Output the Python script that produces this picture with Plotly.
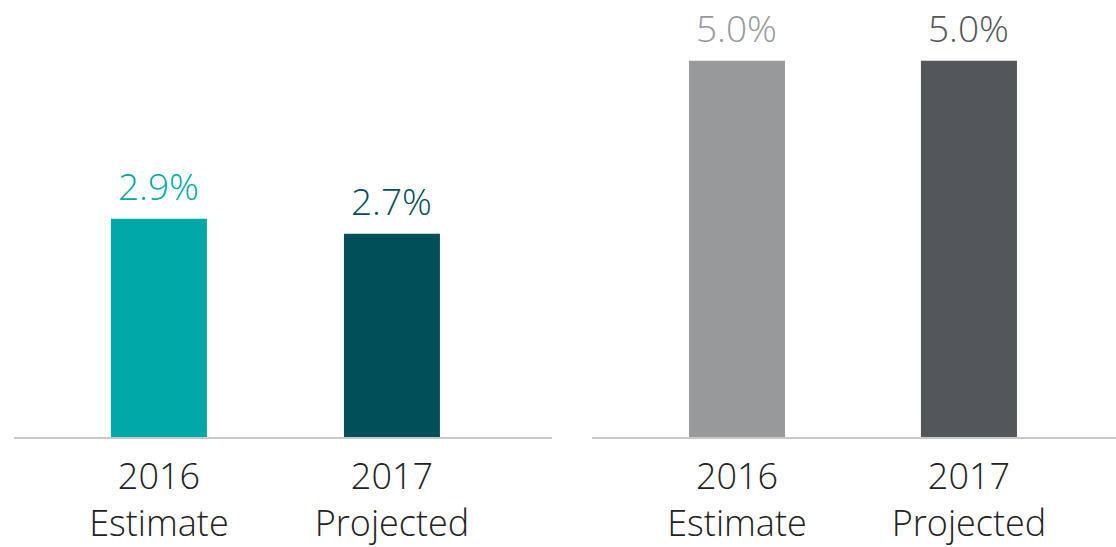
import plotly.graph_objects as go
from plotly.subplots import make_subplots

categories = ["2016<br>Estimate", "2017<br>Projected"]
left_values = [2.9, 2.7]
right_values = [5.0, 5.0]
left_colors = ["#00A9A8", "#00505A"]
right_colors = ["#97999B", "#53565A"]

FONT = "Open Sans"
W, H = 1116, 547

fig = make_subplots(rows=1, cols=2)

fig.add_trace(go.Bar(
    x=[0, 1], y=left_values, marker=dict(color=left_colors, line=dict(width=0)),
    width=0.412, cliponaxis=False, hoverinfo="skip"), row=1, col=1)
fig.add_trace(go.Bar(
    x=[0, 1], y=right_values, marker=dict(color=right_colors, line=dict(width=0)),
    width=0.414, cliponaxis=False, hoverinfo="skip"), row=1, col=2)

annotations = []
for xref, yref, vals, cols in (("x", "y", left_values, left_colors),
                               ("x2", "y2", right_values, right_colors)):
    for i, (v, c) in enumerate(zip(vals, cols)):
        annotations.append(dict(
            x=i, y=v, xref=xref, yref=yref, text=f"{v:.1f}%", showarrow=False,
            xanchor="center", yanchor="bottom", yshift=6,
            font=dict(family=FONT, size=37, color=c, weight=300)))

xcommon = dict(tickmode="array", tickvals=[0, 1], ticktext=categories,
               showline=True, linecolor="#C8C8C8", linewidth=1.5, showgrid=False,
               zeroline=False, ticks="", ticklabelstandoff=7,
               tickfont=dict(family=FONT, size=36, color="#222222", weight=300))
fig.update_xaxes(**xcommon)
fig.update_layout(
    xaxis=dict(domain=[14 / W, 552 / W], range=[-0.622, 1.687]),
    xaxis2=dict(domain=[592 / W, 1.0], range=[-0.625, 1.634]),
)
fig.update_yaxes(range=[0, 5.807], visible=False, showgrid=False, zeroline=False)

fig.update_layout(
    width=W, height=H, showlegend=False,
    margin=dict(l=0, r=0, t=0, b=108),
    plot_bgcolor="white", paper_bgcolor="white",
    annotations=annotations,
)

fig.write_html("out.html", config={"displayModeBar": False},
               post_script="document.body.style.margin='0';document.body.style.overflow='hidden';")
